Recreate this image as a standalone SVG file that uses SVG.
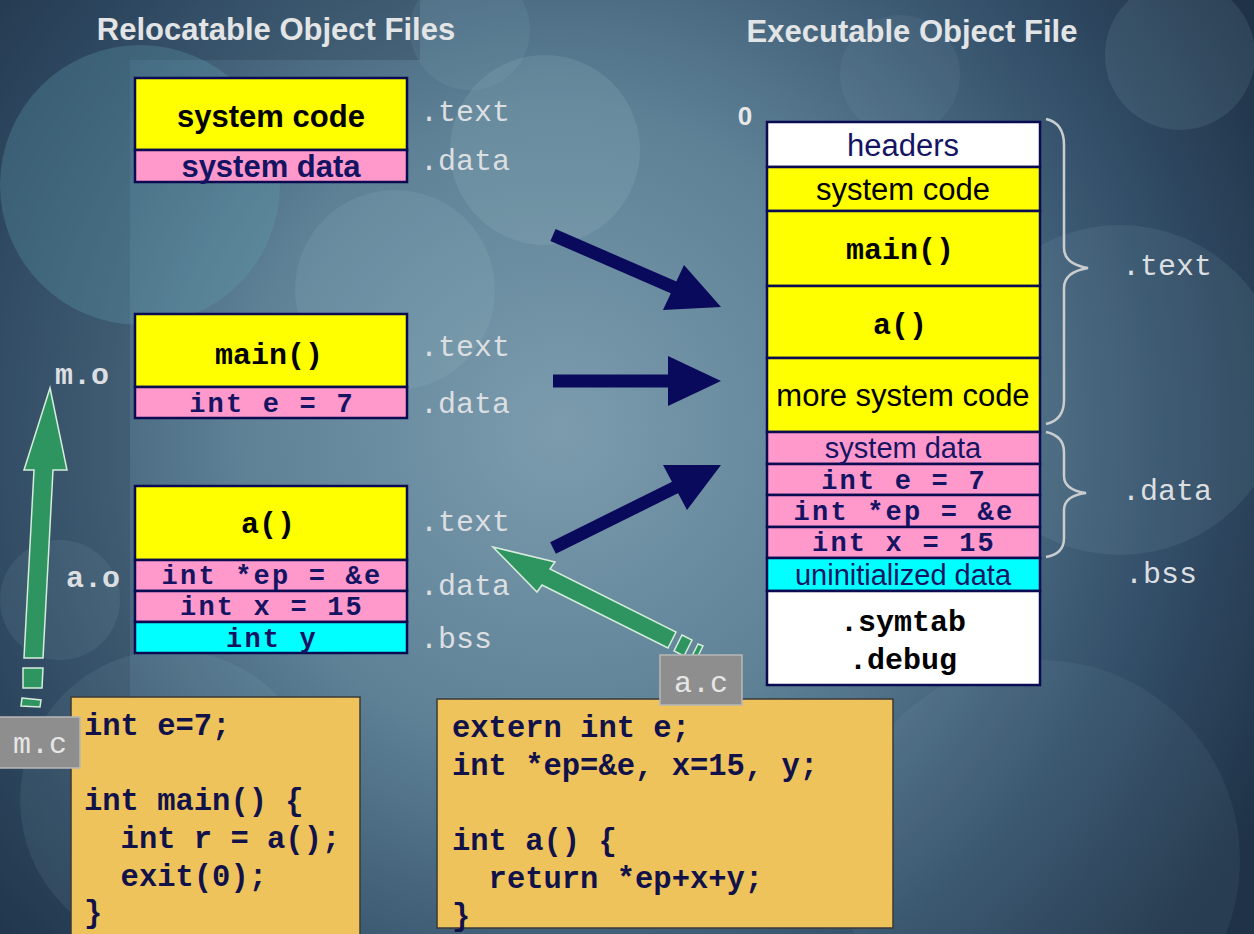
<svg xmlns="http://www.w3.org/2000/svg" width="1254" height="934" viewBox="0 0 1254 934">
<defs>
<radialGradient id="bgGrad" cx="560" cy="430" r="800" gradientUnits="userSpaceOnUse">
<stop offset="0" stop-color="#7c9cae"/>
<stop offset="0.4" stop-color="#5e8196"/>
<stop offset="0.75" stop-color="#34506a"/>
<stop offset="1" stop-color="#1f3247"/>
</radialGradient>
<style>
.title{font-family:"Liberation Sans",Arial,sans-serif;font-weight:bold;font-size:31px;fill:#e2e4e6;text-anchor:middle}
.box{stroke:#0b0b52;stroke-width:2.5}
.yel{fill:#ffff00}
.pink{fill:#ff99cc}
.cyan{fill:#00ffff}
.wht{fill:#ffffff}
.sans{font-family:"Liberation Sans",Arial,sans-serif;font-size:31px;text-anchor:middle}
.sansr{font-family:"Liberation Sans",Arial,sans-serif;font-size:29px;text-anchor:middle}
.sansb{font-family:"Liberation Sans",Arial,sans-serif;font-size:31px;font-weight:bold;text-anchor:middle}
.mono{font-family:"Liberation Mono","Courier New",monospace;font-size:30px;font-weight:bold;text-anchor:middle}
.monor{font-family:"Liberation Mono","Courier New",monospace;font-size:27px;letter-spacing:2.2px;font-weight:bold;text-anchor:middle}
.blk{fill:#000000}
.navy{fill:#141463}
.sec{font-family:"Liberation Mono","Courier New",monospace;font-size:30px;fill:#dcdfe2}
.code{font-family:"Liberation Mono","Courier New",monospace;font-size:30.5px;font-weight:bold;fill:#12124a;white-space:pre}
.codebox{fill:#efc35c;stroke:#3a3a3a;stroke-width:1.5}
.tag{fill:#8e8e8e;stroke:#b8b8b8;stroke-width:1.5}
.tagt{font-family:"Liberation Mono","Courier New",monospace;font-size:30px;fill:#e6e6e6;text-anchor:middle}
.green{fill:#2f9560;stroke:#d6ecdc;stroke-width:1.5;stroke-linejoin:miter}
.navyln{stroke:#0a0a5c;stroke-width:13;fill:none}
.navyhd{fill:#0a0a5c}
.brace{fill:none;stroke:#c9cdd0;stroke-width:2.5}
</style>
</defs>

<g id="background">
<rect x="0" y="0" width="1254" height="934" fill="url(#bgGrad)"/>
<rect x="0" y="0" width="420" height="60" fill="#1d2f44" opacity="0.25"/>
<rect x="0" y="60" width="130" height="874" fill="#1d2f44" opacity="0.25"/>
<circle cx="140" cy="185" r="140" fill="#5fa0ae" opacity="0.3"/>
<circle cx="545" cy="150" r="95" fill="#9fc4d0" opacity="0.16"/>
<circle cx="395" cy="290" r="100" fill="#9fc4d0" opacity="0.14"/>
<circle cx="1180" cy="55" r="75" fill="#9fc4d0" opacity="0.12"/>
<circle cx="1120" cy="390" r="165" fill="#9fc4d0" opacity="0.1"/>
<circle cx="1040" cy="860" r="200" fill="#9fc4d0" opacity="0.08"/>
<circle cx="170" cy="800" r="150" fill="#9fc4d0" opacity="0.1"/>
<circle cx="60" cy="600" r="60" fill="#9fc4d0" opacity="0.1"/>
<circle cx="470" cy="30" r="60" fill="#9fc4d0" opacity="0.1"/>
<circle cx="900" cy="75" r="60" fill="#9fc4d0" opacity="0.08"/>
</g>

<g id="titles">
<text class="title" x="276" y="40">Relocatable Object Files</text>
<text class="title" x="912" y="42">Executable Object File</text>
</g>

<g id="connectors">
<line class="navyln" x1="553" y1="235" x2="675" y2="288"/>
<polygon class="navyhd" points="721,307 684,265 663,310"/>
<line class="navyln" x1="553" y1="381" x2="670" y2="381"/>
<polygon class="navyhd" points="721,381 668,356 668,406"/>
<line class="navyln" x1="553" y1="548" x2="676" y2="487"/>
<polygon class="navyhd" points="721,465 663,465 687,510"/>
<polygon class="green" points="50,388 67,470 53,470 43,658 24,658 34,470 24,470"/>
<polygon class="green" points="23,668 43,668 42,688 23,688"/>
<polygon class="green" points="22,698 41,700 40,707 21,706"/>
<polygon class="green" points="493,547 555,562 550,569 676,632 668,648 542,585 537,592"/>
<polygon class="green" points="682,635 692,640 684,656 674,651"/>
<polygon class="green" points="698,644 703,646 696,660 691,658"/>
</g>

<g id="sys-o">
<rect class="box yel" x="135" y="78" width="272" height="72"/>
<rect class="box pink" x="135" y="150" width="272" height="32"/>
<text class="sansb blk" x="271" y="127">system code</text>
<text class="sansb navy" x="271" y="177">system data</text>
<text class="sec" x="420" y="121">.text</text>
<text class="sec" x="420" y="170">.data</text>
</g>

<g id="m-o">
<rect class="box yel" x="135" y="314" width="272" height="73"/>
<rect class="box pink" x="135" y="387" width="272" height="31"/>
<text class="mono blk" x="269" y="364">main()</text>
<text class="monor navy" x="272" y="412">int e = 7</text>
<text class="sec" x="420" y="356">.text</text>
<text class="sec" x="420" y="413">.data</text>
<text class="sec" x="55" y="384" font-weight="bold">m.o</text>
</g>

<g id="a-o">
<rect class="box yel" x="135" y="486" width="272" height="74"/>
<rect class="box pink" x="135" y="560" width="272" height="31"/>
<rect class="box pink" x="135" y="591" width="272" height="31"/>
<rect class="box cyan" x="135" y="622" width="272" height="31"/>
<text class="mono blk" x="268" y="533">a()</text>
<text class="monor navy" x="272" y="584">int *ep = &amp;e</text>
<text class="monor navy" x="272" y="615">int x = 15</text>
<text class="monor navy" x="272" y="647">int y</text>
<text class="sec" x="420" y="531">.text</text>
<text class="sec" x="420" y="595">.data</text>
<text class="sec" x="420" y="648">.bss</text>
<text class="sec" x="66" y="587" font-weight="bold">a.o</text>
</g>

<g id="executable">
<text x="745" y="125" font-family="'Liberation Sans',Arial,sans-serif" font-size="26" font-weight="bold" fill="#e6e8ea" text-anchor="middle">0</text>
<rect class="box wht" x="767" y="122" width="273" height="45"/>
<rect class="box yel" x="767" y="167" width="273" height="44"/>
<rect class="box yel" x="767" y="211" width="273" height="75"/>
<rect class="box yel" x="767" y="286" width="273" height="72"/>
<rect class="box yel" x="767" y="358" width="273" height="74"/>
<rect class="box pink" x="767" y="432" width="273" height="32"/>
<rect class="box pink" x="767" y="464" width="273" height="31"/>
<rect class="box pink" x="767" y="495" width="273" height="32"/>
<rect class="box pink" x="767" y="527" width="273" height="31"/>
<rect class="box cyan" x="767" y="558" width="273" height="33"/>
<rect class="box wht" x="767" y="591" width="273" height="94"/>
<text class="sans navy" x="903" y="156">headers</text>
<text class="sans blk" x="903" y="200">system code</text>
<text class="mono blk" x="900" y="259">main()</text>
<text class="mono blk" x="900" y="334">a()</text>
<text class="sans blk" x="903" y="406">more system code</text>
<text class="sansr navy" x="903" y="458">system data</text>
<text class="monor navy" x="904" y="489">int e = 7</text>
<text class="monor navy" x="904" y="520">int *ep = &amp;e</text>
<text class="monor navy" x="904" y="551">int x = 15</text>
<text class="sansr navy" x="903" y="585">uninitialized data</text>
<text class="mono blk" x="903" y="631">.symtab</text>
<text class="mono blk" x="903" y="669">.debug</text>
<path class="brace" d="M1046,119 Q1064,123 1064,145 L1064,248 Q1064,264 1088,268 Q1064,272 1064,288 L1064,400 Q1064,420 1046,424"/>
<path class="brace" d="M1046,432 Q1064,436 1064,452 L1064,476 Q1064,490 1086,493 Q1064,496 1064,510 L1064,538 Q1064,554 1046,557"/>
<text class="sec" x="1122" y="275">.text</text>
<text class="sec" x="1122" y="500">.data</text>
<text class="sec" x="1125" y="583">.bss</text>
</g>

<g id="m-c">
<rect class="codebox" x="71" y="697" width="289" height="245"/>
<text class="code" x="84" y="735">int e=7;</text>
<text class="code" x="84" y="810">int main() {</text>
<text class="code" x="84" y="848">  int r = a();</text>
<text class="code" x="84" y="886">  exit(0);</text>
<text class="code" x="84" y="922">}</text>
<rect class="tag" x="-2" y="717" width="82" height="51"/>
<text class="tagt" x="40" y="753">m.c</text>
</g>

<g id="a-c">
<rect class="codebox" x="437" y="699" width="456" height="229"/>
<text class="code" x="452" y="737">extern int e;</text>
<text class="code" x="452" y="775">int *ep=&amp;e, x=15, y;</text>
<text class="code" x="452" y="850">int a() {</text>
<text class="code" x="452" y="888">  return *ep+x+y;</text>
<text class="code" x="452" y="925">}</text>
<rect class="tag" x="660" y="655" width="82" height="50"/>
<text class="tagt" x="701" y="692">a.c</text>
</g>
</svg>
